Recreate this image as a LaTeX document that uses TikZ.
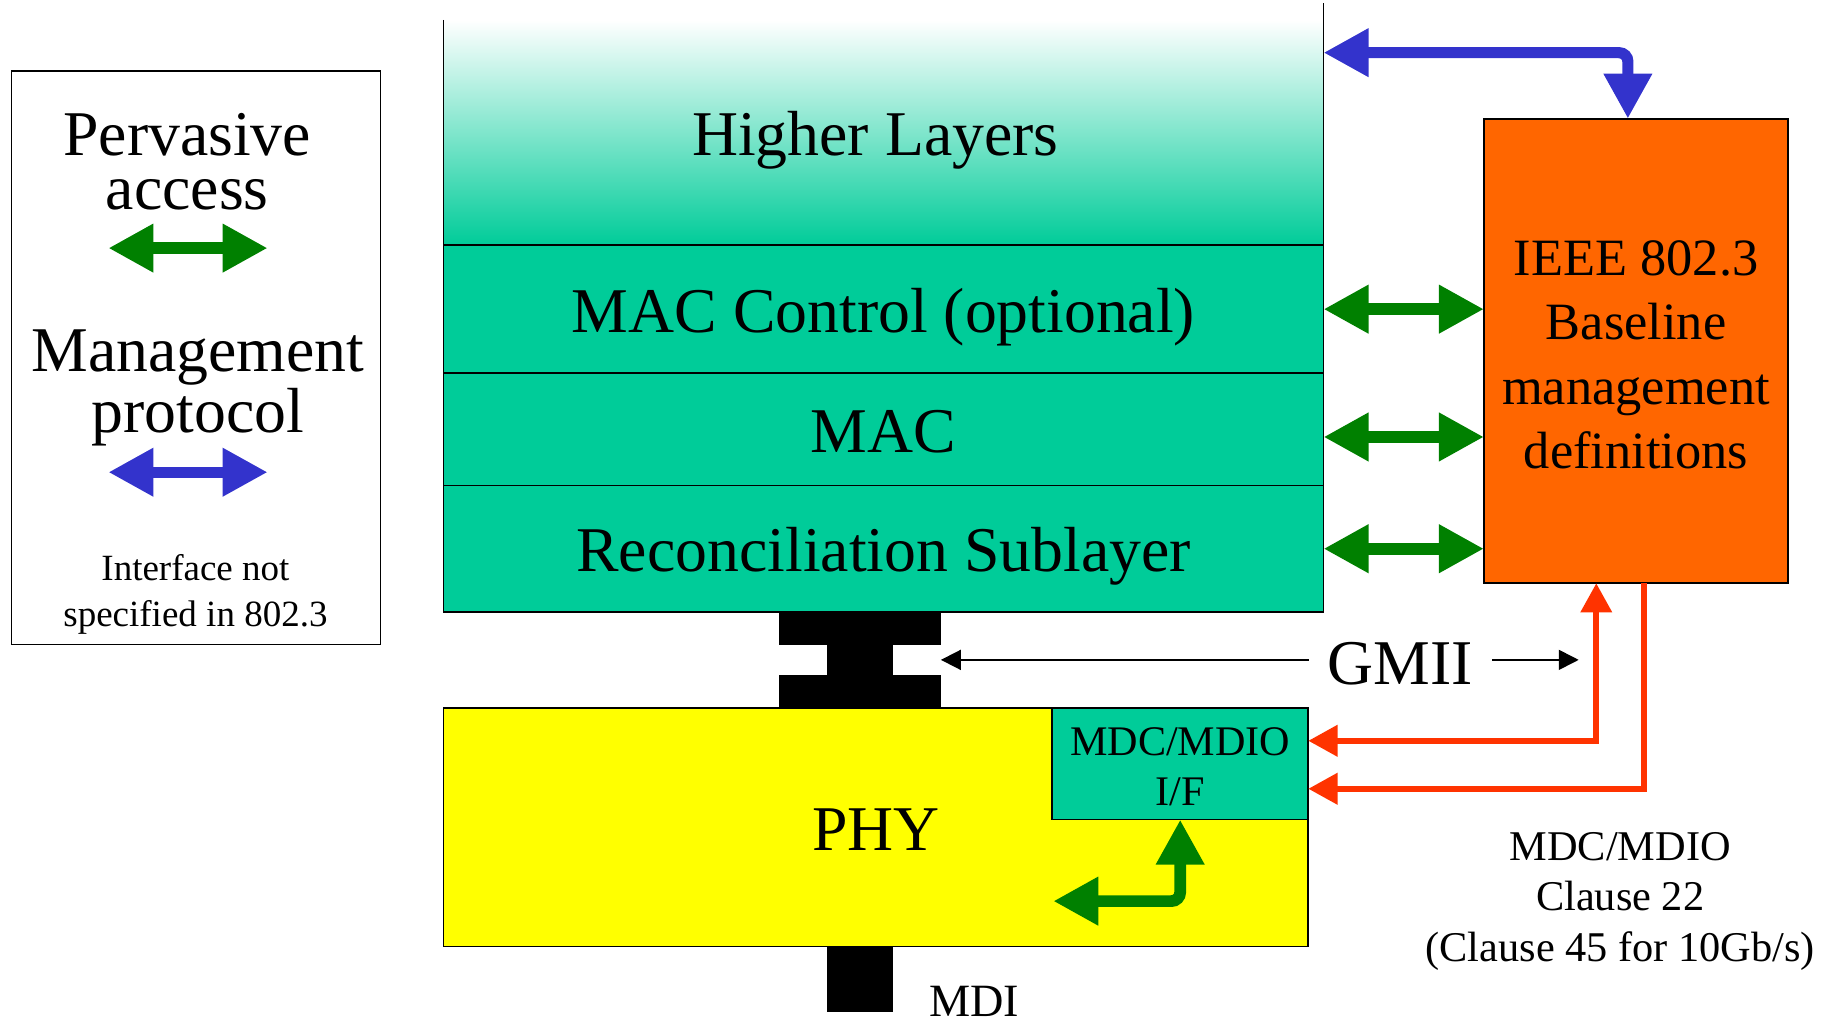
\documentclass[tikz,border=0pt]{standalone}
\usepackage{fontspec}
\setmainfont{Liberation Serif}
\usepackage{tikz}
\usetikzlibrary{arrows.meta,positioning}
\definecolor{layerteal}{HTML}{00CC99}
\definecolor{phyyellow}{HTML}{FFFF00}
\definecolor{mgmtorange}{HTML}{FF6600}
\definecolor{pagreen}{HTML}{008000}
\definecolor{mpblue}{HTML}{3333CC}
\definecolor{mdiored}{HTML}{FF3300}

\begin{document}
\begin{tikzpicture}[
    x=0.02cm, y=-0.02cm,
    bigfont/.style={font=\fontsize{31}{37}\selectfont},
    stackline/.style={draw=black, line width=0.8pt},
    layer/.style={stackline, fill=layerteal, minimum width=15.04cm, outer sep=0pt, inner sep=0pt, text height=22.5pt, text depth=0pt, bigfont},
    gmiibar/.style={fill=black, minimum width=2.76cm, minimum height=0.56cm, inner sep=0pt, outer sep=0pt},
    gmiineckbox/.style={fill=black, minimum width=1.12cm, minimum height=0.52cm, inner sep=0pt, outer sep=0pt},
    phybox/.style={stackline, fill=phyyellow, minimum width=14.78cm, minimum height=4.08cm, outer sep=0pt, inner sep=0pt, text height=22.5pt, text depth=0pt, bigfont},
    mdcbox/.style={stackline, fill=layerteal, minimum width=4.38cm, minimum height=1.91cm, outer sep=0pt, inner sep=0pt, align=center, text height=41.2pt, font=\fontsize{20.5}{24.3}\selectfont},
    mgmtbox/.style={stackline, fill=mgmtorange, minimum width=5.2cm, minimum height=7.94cm, outer sep=0pt, inner sep=0pt, align=center, text height=114.5pt, font=\fontsize{25.5}{31.3}\selectfont},
    mdibar/.style={fill=black, minimum width=1.12cm, minimum height=1.12cm, inner sep=0pt, outer sep=0pt},
    bighead/.tip={Triangle[length=0.77cm, width=0.78cm]},
    mdiohead/.tip={Triangle[length=0.5cm, width=0.52cm]},
    pervasive/.style={bighead-bighead, line width=0.2cm, draw=pagreen},
    management/.style={bighead-bighead, line width=0.19cm, draw=mpblue},
    mdio/.style={line width=0.1cm, draw=mdiored},
    gmiiarrow/.style={-{Triangle[length=0.34cm, width=0.34cm]}, line width=0.85pt, draw=black}
  ]
    \useasboundingbox (0,0) rectangle (1568,871);

    \node[draw, line width=0.7pt, minimum width=6.3cm, minimum height=9.81cm, outer sep=0pt] (legend) at (167.5,305.75) {};
    \node[align=center, inner sep=0pt, font=\fontsize{31}{26.5}\selectfont] (pervasivetext) at (160,138.2) {Pervasive\\access};
    \node[align=center, inner sep=0pt, font=\fontsize{31}{30}\selectfont] (mgmttext) at (169,331.5) {Management\\protocol};
    \node[align=center, inner sep=0pt, font=\fontsize{18}{22.1}\selectfont] (unspec) at (167,508) {Interface not\\specified in 802.3};
    \coordinate (pvleft) at (92.6,212);
    \coordinate (pvright) at (228.7,212);
    \coordinate (mpleft) at (92.6,403.5);
    \coordinate (mpright) at (228.7,403.5);
    \draw[pervasive] (pvleft) -- (pvright);
    \draw[management] (mpleft) -- (mpright);

    \node[shade, top color=white, bottom color=layerteal, minimum width=15.04cm, minimum height=3.85cm, outer sep=0pt, inner sep=0pt] (higher) at (755,113.2) {};
    \node[bigfont, inner sep=0pt, text height=22.5pt, text depth=0pt] (higherlbl) at ([xshift=-0.14cm]higher.center) {Higher Layers};
    \draw[stackline] (higher.north west) -- (higher.south west);
    \draw[stackline] ([yshift=0.28cm]higher.north east) -- (higher.south east);
    \node[layer, minimum height=2.19cm, below=0pt of higher] (macctl) {MAC Control (optional)};
    \node[layer, minimum height=1.92cm, below=0pt of macctl] (mac) {MAC};
    \node[layer, minimum height=2.16cm, below=0pt of mac] (rs) {Reconciliation Sublayer};

    \node[gmiibar, anchor=north] (gmiitop) at ([xshift=-0.4cm]rs.south) {};
    \node[gmiineckbox, below=0pt of gmiitop] (gmiineck) {};
    \node[gmiibar, below=0pt of gmiineck] (gmiibot) {};

    \node[phybox, anchor=north west] (phy) at (gmiibot.south -| rs.west) {PHY};
    \node[mdcbox, anchor=north east] (mdcif) at (phy.north east) {MDC/MDIO\\I/F};
    \node[mdibar, below=0pt of phy.south -| gmiineck] (mdi) {};
    \node[anchor=base west, inner sep=0pt, font=\fontsize{22.5}{27}\selectfont] (mditext) at (793.5,868.7) {MDI};

    \node[mgmtbox] (ieee) at (1398,299.9) {IEEE 802.3\\Baseline\\management\\definitions};

    \node[bigfont, inner xsep=0.32cm, inner ysep=0pt] (gmii) at (1196.6,567) {GMII};
    \coordinate (gmiiend) at (1349,565);
    \draw[gmiiarrow] (gmii.west |- gmiineck) -- (gmiineck -| gmiitop.east);
    \draw[gmiiarrow] (gmii.east |- gmiineck) -- (gmiiend |- gmiineck);

    \draw[pervasive] (macctl.east) -- (macctl.east -| ieee.west);
    \draw[pervasive] ([yshift=-0.13cm]mac.east) -- ([yshift=-0.13cm]mac.east -| ieee.west);
    \draw[pervasive] (rs.east) -- (rs.east -| ieee.west);

    \coordinate (blueturn) at (1391,45);
    \draw[management, rounded corners=0.15cm] (higher.east |- blueturn) -- (blueturn) -- (blueturn |- ieee.north);

    \coordinate (phyport) at (900,770);
    \draw[pervasive, rounded corners=0.15cm] (phyport) -| (mdcif.south);

    \coordinate (mdcturn) at (1364,633);
    \coordinate (mdioturn) at (1405,674);
    \draw[mdio, mdiohead-mdiohead] (mdcif.east |- mdcturn) -- (mdcturn) -- (mdcturn |- ieee.south);
    \draw[mdio, -mdiohead] (mdioturn |- ieee.south) -- (mdioturn) -- (mdcif.east |- mdioturn);

    \node[align=center, inner sep=0pt, font=\fontsize{20.6}{24.7}\selectfont] (clause) at (1384.4,770.2) {MDC/MDIO\\Clause 22\\(Clause 45 for 10Gb/s)};
  \end{tikzpicture}
\end{document}
